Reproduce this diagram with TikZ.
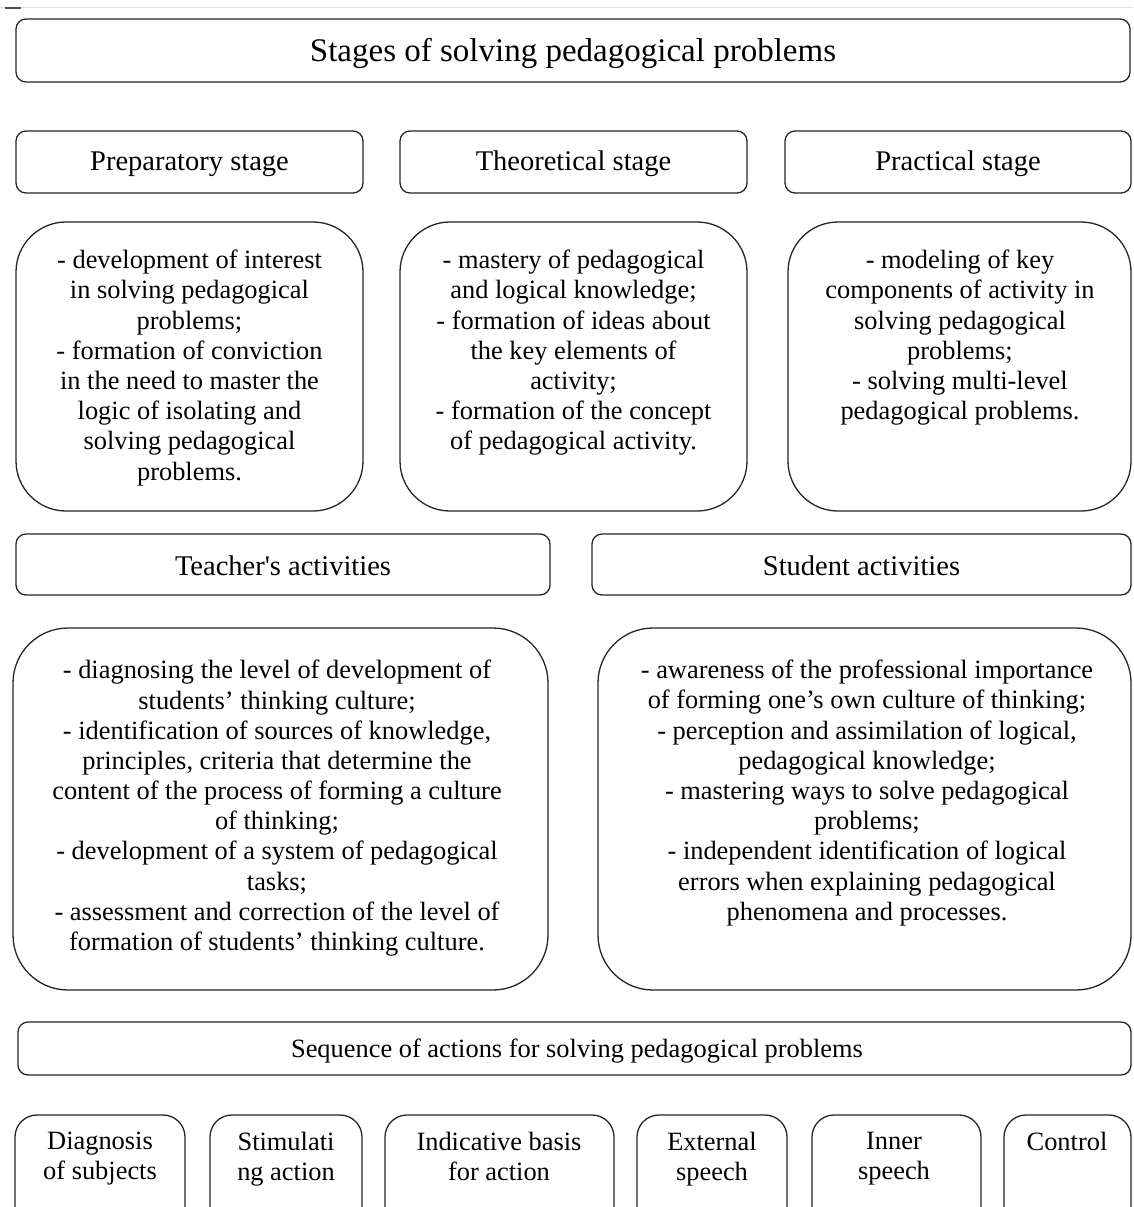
\documentclass[tikz,border=0pt]{standalone}
\usepackage{fontspec}
\setmainfont{Liberation Serif}
\begin{document}
\begin{tikzpicture}[x=1pt,y=-1pt,
  box/.style={draw=black!85,line width=1.3pt},
  hbox/.style={box,rounded corners=10pt},
  cbox/.style={box,rounded corners=50pt},
  bbox/.style={box,rounded corners=22pt},
  body/.style={inner sep=0pt,align=center,anchor=north,font=\fontsize{26.4}{30.2}\selectfont},
  head/.style={inner sep=0pt,align=center,font=\fontsize{28.5}{32}\selectfont},
  ttl/.style={inner sep=0pt,align=center,font=\fontsize{33}{38}\selectfont}]
\useasboundingbox (0,0) rectangle (1133,1207);
\clip (0,0) rectangle (1133,1207);
\fill[white] (0,0) rectangle (1133,1207);
% top artifact
\draw[black!12,line width=1pt] (0,8) -- (1133,8);
\draw[black!70,line width=1.2pt] (5,8) -- (21,8);
% title
\draw[hbox] (16,19) rectangle (1130,82);
\node[ttl] (title) at (573,53) {Stages of solving pedagogical problems};
% stage headers
\draw[hbox] (16,131) rectangle (363,193);
\node[head] (prep) at (189.5,164) {Preparatory stage};
\draw[hbox] (400,131) rectangle (747,193);
\node[head] (theo) at (573.5,164) {Theoretical stage};
\draw[hbox] (785,131) rectangle (1131,193);
\node[head] (prac) at (958,164) {Practical stage};
% stage contents
\draw[cbox] (16,222) rectangle (363,511);
\node[body] (prepc) at (189.5,250) {- development of interest\\in solving pedagogical\\problems;\\- formation of conviction\\in the need to master the\\logic of isolating and\\solving pedagogical\\problems.};
\draw[cbox] (400,222) rectangle (747,511);
\node[body] (theoc) at (573.5,250) {- mastery of pedagogical\\and logical knowledge;\\- formation of ideas about\\the key elements of\\activity;\\- formation of the concept\\of pedagogical activity.};
\draw[cbox] (788,222) rectangle (1131,511);
\node[body] (pracc) at (960,250) {- modeling of key\\components of activity in\\solving pedagogical\\problems;\\- solving multi-level\\pedagogical problems.};
% activities headers
\draw[hbox] (16,534) rectangle (550,595);
\node[head] (teach) at (283,566) {Teacher\textquotesingle s activities};
\draw[hbox] (592,534) rectangle (1131,595);
\node[head] (stud) at (861.5,566) {Student activities};
% activities contents
\draw[cbox,rounded corners=55pt] (13,628) rectangle (548,990);
\node[body] (teachc) at (277,660) {- diagnosing the level of development of\\students’ thinking culture;\\- identification of sources of knowledge,\\principles, criteria that determine the\\content of the process of forming a culture\\of thinking;\\- development of a system of pedagogical\\tasks;\\- assessment and correction of the level of\\formation of students’ thinking culture.};
\draw[cbox,rounded corners=55pt] (598,628) rectangle (1131,990);
\node[body] (studc) at (867,660) {- awareness of the professional importance\\of forming one’s own culture of thinking;\\- perception and assimilation of logical,\\pedagogical knowledge;\\- mastering ways to solve pedagogical\\problems;\\- independent identification of logical\\errors when explaining pedagogical\\phenomena and processes.};
% sequence
\draw[hbox] (18,1022) rectangle (1131,1075);
\node[inner sep=0pt,font=\fontsize{26.4}{30.2}\selectfont] (seq) at (577,1051) {Sequence of actions for solving pedagogical problems};
% bottom row
\draw[bbox] (15,1115) rectangle (185,1240);
\node[body] (b1) at (100,1132) {Diagnosis\\of subjects};
\draw[bbox] (210,1115) rectangle (362,1240);
\node[body] (b2) at (286,1132) {Stimulati\\ng action};
\draw[bbox] (385,1115) rectangle (614,1240);
\node[body] (b3) at (499,1132) {Indicative basis\\for action};
\draw[bbox] (637,1115) rectangle (787,1240);
\node[body] (b4) at (712,1132) {External\\speech};
\draw[bbox] (812,1115) rectangle (981,1240);
\node[body] (b5) at (894,1132) {Inner\\speech};
\draw[bbox] (1004,1115) rectangle (1131,1240);
\node[body] (b6) at (1067,1132) {Control};
\end{tikzpicture}
\end{document}
